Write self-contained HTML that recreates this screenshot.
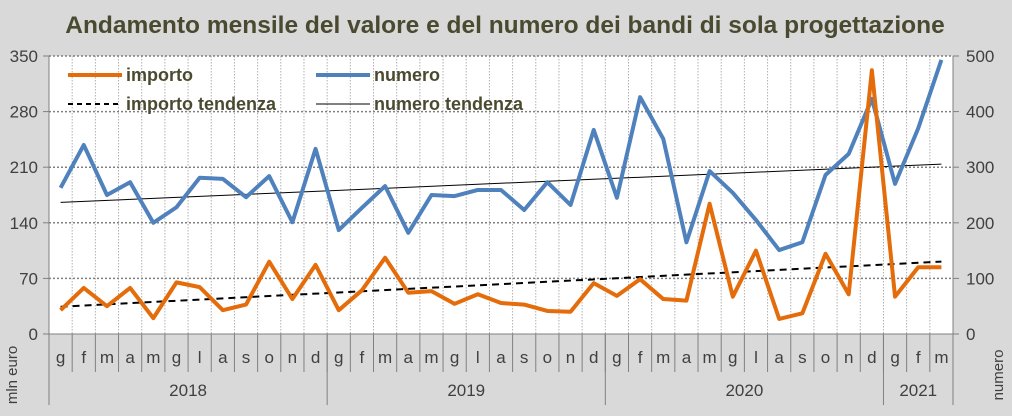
<!DOCTYPE html>
<html><head><meta charset="utf-8"><style>
body{margin:0;background:#d9d9d9;}
svg{display:block;font-family:"Liberation Sans",sans-serif;}
</style></head><body>
<svg id="c" width="1012" height="416"></svg>
<script>
const months=["g","f","m","a","m","g","l","a","s","o","n","d","g","f","m","a","m","g","l","a","s","o","n","d","g","f","m","a","m","g","l","a","s","o","n","d","g","f","m"];
const years=["2018","2019","2020","2021"];
const yearCounts=[12,12,12,3];
const importo=[30,58,35,58,20,65,59,30,37,91,44,87,30,55,96,52,54,38,50,39,37,29,28,64,48,69,44,42,164,47,105,19,26,101,50,332,47,84,84];
const numero=[263,340,250,273,200,228,281,279,246,284,201,333,187,227,266,182,250,248,259,259,223,273,232,367,245,426,351,165,293,254,205,151,165,286,324,423,270,370,493];
const leftTicks=[0,70,140,210,280,350];
const rightTicks=[0,100,200,300,400,500];
const X0=49,X1=953,Y0=334,Y1=56,N=months.length,cw=(X1-X0)/N;
const xs=i=>X0+cw*(i+0.5);
const yl=v=>Y0-(v/350)*(Y0-Y1);
const yr=v=>Y0-(v/500)*(Y0-Y1);
const svg=document.getElementById('c');const NS="http://www.w3.org/2000/svg";
function el(t,a,txt){const e=document.createElementNS(NS,t);for(const k in a)e.setAttribute(k,a[k]);if(txt!=null)e.textContent=txt;svg.appendChild(e);return e;}
let e;
e=el('text',{x:505,y:33,'text-anchor':'middle','font-size':24.5,'font-weight':'bold',fill:'#4a4a30'},'Andamento mensile del valore e del numero dei bandi di sola progettazione');

e=el('rect',{x:X0,y:Y1,width:X1-X0,height:Y0-Y1,fill:'#fff'});

for(let i=1;i<N;i++){e=el('line',{x1:X0+cw*i,x2:X0+cw*i,y1:Y1,y2:Y0,stroke:'#b0b0b0','stroke-dasharray':'1.5,1.5'});
}
leftTicks.forEach(t=>{const y=yl(t);
if(t>0){e=el('line',{x1:X0,x2:X1,y1:y,y2:y,stroke:'#808080','stroke-width':1.5,'stroke-dasharray':'2,2'});
}
e=el('line',{x1:X0-6,x2:X0,y1:y,y2:y,stroke:'#808080'});
e=el('text',{x:38,y:y+6,'text-anchor':'end','font-size':17,fill:'#404040'},t);
});
rightTicks.forEach(t=>{const y=yr(t);
e=el('line',{x1:X1,x2:X1+6,y1:y,y2:y,stroke:'#808080'});
e=el('text',{x:966,y:y+6,'font-size':17,fill:'#404040'},t);
});
el('line',{x1:X0,x2:X0,y1:Y1,y2:Y0,stroke:'#808080'});
el('line',{x1:X1,x2:X1,y1:Y1,y2:Y0,stroke:'#808080'});
el('line',{x1:X0,x2:X1,y1:Y0,y2:Y0,stroke:'#808080'});
months.forEach((m,i)=>{e=el('text',{x:xs(i),y:363,'text-anchor':'middle','font-size':17,fill:'#404040'},m);
});
let acc=0;
for(let i=0;i<=N;i++){el('line',{x1:X0+cw*i,x2:X0+cw*i,y1:Y0,y2:372,stroke:'#808080'});}
el('line',{x1:X0,x2:X0,y1:Y0,y2:405,stroke:'#808080'});
years.forEach((yv,k)=>{const s=acc;acc+=yearCounts[k];
el('line',{x1:X0+cw*acc,x2:X0+cw*acc,y1:Y0,y2:405,stroke:'#808080'});
e=el('text',{x:X0+cw*(s+acc)/2,y:396,'text-anchor':'middle','font-size':17,fill:'#404040'},yv);
});
e=el('text',{x:0,y:0,'font-size':15,fill:'#404040',transform:'translate(17,375) rotate(-90)','text-anchor':'middle'},'mln euro');

e=el('text',{x:0,y:0,'font-size':15,fill:'#404040',transform:'translate(1003,375) rotate(-90)','text-anchor':'middle'},'numero');

function trend(arr){const n=arr.length;let sx=0,sy=0,sxy=0,sxx=0;arr.forEach((v,i)=>{sx+=i;sy+=v;sxy+=i*v;sxx+=i*i;});const b=(n*sxy-sx*sy)/(n*sxx-sx*sx);const a=(sy-b*sx)/n;return [a,a+b*(n-1)];}
const tn=trend(numero),ti=trend(importo);
e=el('line',{x1:xs(0),x2:xs(N-1),y1:yr(tn[0]),y2:yr(tn[1]),stroke:'#000','stroke-width':1});

e=el('line',{x1:xs(0),x2:xs(N-1),y1:yl(ti[0]),y2:yl(ti[1]),stroke:'#000','stroke-width':2,'stroke-dasharray':'7,5'});

e=el('polyline',{points:numero.map((v,i)=>xs(i)+','+yr(v)).join(' '),fill:'none',stroke:'#4f81bd','stroke-width':4,'stroke-linejoin':'round'});

e=el('polyline',{points:importo.map((v,i)=>xs(i)+','+yl(v)).join(' '),fill:'none',stroke:'#e46c0a','stroke-width':4,'stroke-linejoin':'round'});

const leg=[["importo",68,75,'#e46c0a',4,null],["numero",316,75,'#4f81bd',4,null],["importo tendenza",68,104,'#000',2,'5,4'],["numero tendenza",316,104,'#000',1,null]];
leg.forEach(l=>{const g=el('line',{x1:l[1],x2:l[1]+54,y1:l[2],y2:l[2],stroke:l[3],'stroke-width':l[4]});if(l[5])g.setAttribute('stroke-dasharray',l[5]);

const t=el('text',{x:l[1]+58,y:l[2]+6,'font-size':18,'font-weight':'bold',fill:'#4a4a30'},l[0]);
});
</script>
</body></html>
